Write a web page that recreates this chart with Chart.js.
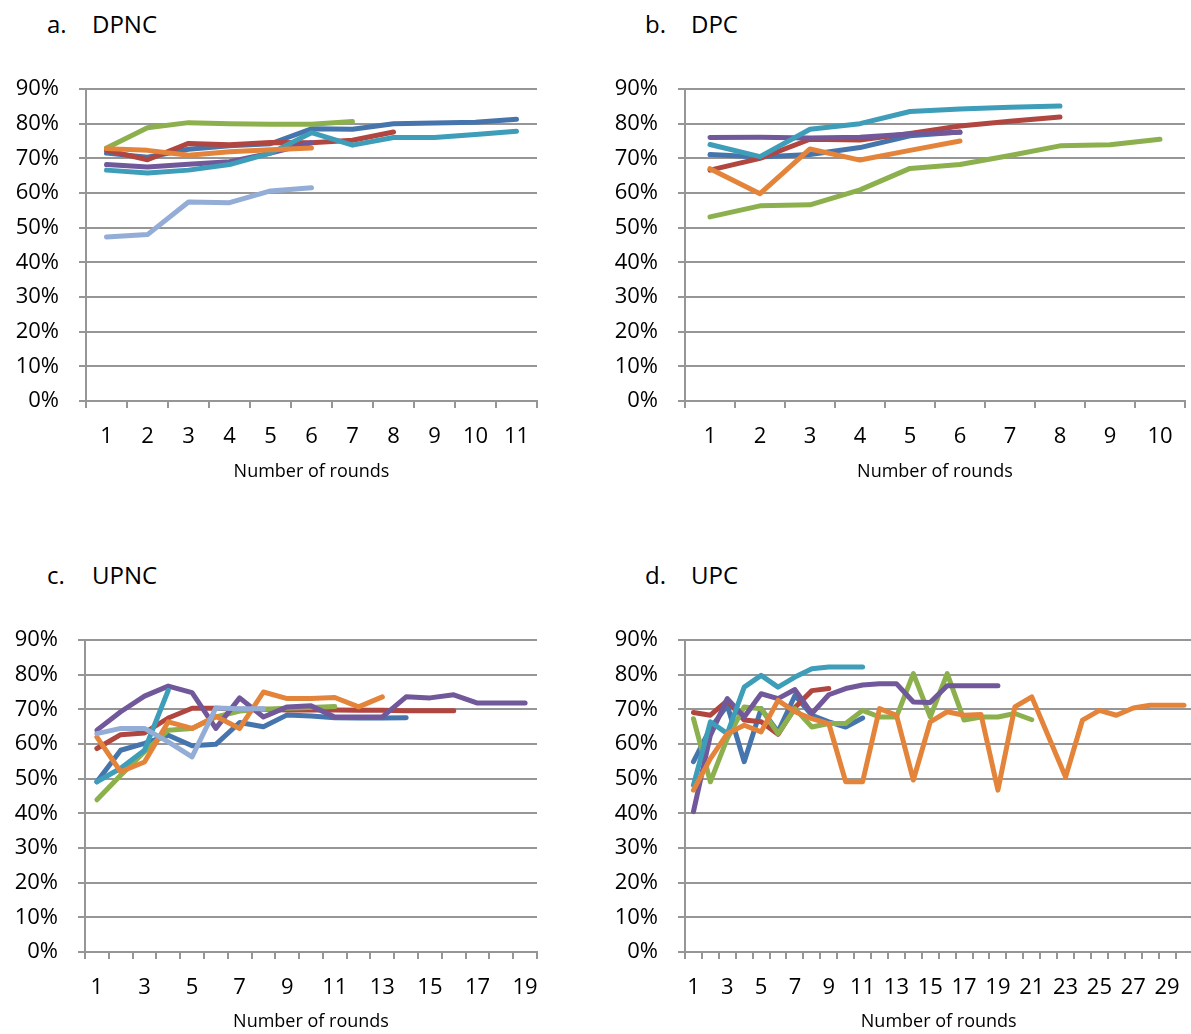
<!DOCTYPE html>
<html>
<head>
<meta charset="utf-8">
<script src="https://cdn.jsdelivr.net/npm/chart.js@4.4.0/dist/chart.umd.min.js"></script>
<style>
  body { margin: 0; background: #fff; }
  .wrap { position: relative; width: 1191px; height: 1034px; overflow: hidden; font-family: 'Open Sans', sans-serif; }
  canvas { position: absolute; }
  .ttl { position: absolute; font-size: 24px; line-height: 24px; color: #000; }
</style>
</head>
<body>
<div class="wrap">
  <div class="ttl" style="left:47px;top:12px">a.</div><div class="ttl" style="left:92px;top:12px">DPNC</div>
  <div class="ttl" style="left:645px;top:12px">b.</div><div class="ttl" style="left:691px;top:12px">DPC</div>
  <div class="ttl" style="left:47px;top:563px">c.</div><div class="ttl" style="left:92px;top:563px">UPNC</div>
  <div class="ttl" style="left:645px;top:563px">d.</div><div class="ttl" style="left:691px;top:563px">UPC</div>
  <canvas id="chartA" width="560" height="420" style="left:0;top:70px"></canvas>
  <canvas id="chartB" width="591" height="420" style="left:600px;top:70px"></canvas>
  <canvas id="chartC" width="560" height="420" style="left:0;top:620px"></canvas>
  <canvas id="chartD" width="600" height="420" style="left:600px;top:620px"></canvas>
</div>
<script>
// categories (rounds)
const roundsA = ['1', '2', '3', '4', '5', '6', '7', '8', '9', '10', '11'];
const roundsB = ['1', '2', '3', '4', '5', '6', '7', '8', '9', '10'];
const roundsC = ['1', '2', '3', '4', '5', '6', '7', '8', '9', '10', '11', '12', '13', '14', '15', '16', '17', '18', '19'];
const roundsD = ['1', '2', '3', '4', '5', '6', '7', '8', '9', '10', '11', '12', '13', '14', '15',
  '16', '17', '18', '19', '20', '21', '22', '23', '24', '25', '26', '27', '28', '29', '30'];

// a. DPNC (%)
const dpncBlue = [71.5, 70.3, 72.6, 73.6, 74.2, 78.5, 78.4, 80.0, 80.2, 80.4, 81.3];
const dpncRed = [72.3, 69.6, 74.3, 73.9, 74.6, 74.5, 75.2, 77.6];
const dpncGreen = [73.0, 78.8, 80.3, 80.0, 79.8, 79.8, 80.6];
const dpncPurple = [68.2, 67.5, 68.3, 69.0, 71.5, 74.5];
const dpncAqua = [66.6, 65.8, 66.6, 68.2, 71.5, 77.4, 73.8, 76.0, 76.0, 76.9, 77.8];
const dpncOrange = [72.8, 72.3, 70.9, 71.9, 72.5, 73.0];
const dpncLight = [47.3, 48.0, 57.4, 57.2, 60.6, 61.5];

// b. DPC (%)
const dpcBlue = [71.1, 70.4, 71.1, 73.1, 76.5, 77.6];
const dpcRed = [66.6, 70.0, 75.5, 75.3, 77.2, 79.3, 80.7, 81.9];
const dpcGreen = [53.1, 56.3, 56.6, 60.9, 67.1, 68.2, 70.8, 73.6, 73.9, 75.5];
const dpcPurple = [76.0, 76.1, 75.9, 76.1, 77.0, 77.5];
const dpcAqua = [74.0, 70.5, 78.4, 80.0, 83.5, 84.2, 84.7, 85.1];
const dpcOrange = [67.0, 59.8, 72.7, 69.5, 72.3, 75.0];

// c. UPNC (%)
const upncBlue = [49.1, 58.2, 60.2, 62.5, 59.5, 59.9, 66.2, 65.0, 68.4, 68.1, 67.6, 67.5, 67.5, 67.6];
const upncRed = [58.7, 62.7, 63.2, 67.5, 70.3, 70.3, 70.0, 70.0, 69.8, 69.8, 69.8, 69.7, 69.7, 69.6, 69.6, 69.6];
const upncGreen = [43.9, 51.0, 57.8, 64.0, 64.5, 67.8, 69.5, 70.0, 70.3, 70.5, 70.8];
const upncPurple = [64.0, 69.3, 73.8, 76.7, 74.8, 64.5, 73.3, 67.8, 70.7, 71.0, 67.8, 67.8, 67.8, 73.6, 73.3, 74.2, 71.8, 71.8, 71.8];
const upncAqua = [49.1, 53.0, 58.2, 75.5];
const upncOrange = [62.0, 52.0, 54.8, 66.4, 64.5, 68.0, 64.5, 75.0, 73.1, 73.1, 73.4, 70.7, 73.6];
const upncLight = [63.0, 64.5, 64.5, 60.6, 56.3, 70.4, 70.2, 70.2];

// d. UPC (%)
const upcBlue = [54.9, 64.5, 71.2, 54.9, 70.2, 63.5, 74.0, 68.3, 66.4, 64.9, 67.5];
const upcRed = [69.1, 68.3, 72.5, 66.9, 66.4, 62.8, 70.5, 75.4, 76.0];
const upcGreen = [67.3, 49.1, 61.6, 70.7, 70.2, 63.0, 70.2, 64.9, 65.9, 65.9, 69.7, 67.8, 67.8, 80.3, 67.8, 80.3, 66.9, 67.8, 67.8, 68.8, 67.0];
const upcPurple = [40.5, 62.5, 73.1, 67.8, 74.5, 73.1, 75.7, 68.8, 74.2, 76.0, 77.0, 77.4, 77.4, 72.1, 72.0, 76.8, 76.8, 76.8, 76.8];
const upcAqua = [48.1, 66.4, 63.0, 76.4, 79.8, 76.4, 79.3, 81.7, 82.2, 82.2, 82.2];
const upcOrange = [46.7, 55.8, 63.0, 65.4, 63.5, 72.6, 69.3, 67.3, 65.9, 49.1, 49.1, 70.2, 68.3, 49.6, 66.4,
  69.3, 68.3, 68.5, 46.7, 70.7, 73.6, 62.0, 50.5, 66.9, 69.7, 68.3, 70.4, 71.2, 71.2, 71.2];

const yTicks = [0, 10, 20, 30, 40, 50, 60, 70, 80, 90];

const blue = '#4675ad';
const red = '#b0463f';
const green = '#8db04e';
const purple = '#71589a';
const aqua = '#3e9db8';
const orange = '#e4843a';
const lightBlue = '#93add6';
const gridColor = '#969696';
const fontFamily = "'Open Sans', sans-serif";

const makeChart = (id, categories, series, yW, pad, xH, skip) => {
    const datasets = series.map((s, i) => ({
        data: s[0],
        borderColor: s[1],
        borderWidth: 5,
        pointRadius: 0,
        tension: 0,
        fill: false,
        borderCapStyle: 'round',
        borderJoinStyle: 'round',
        order: series.length - i,
    }));

    const config = {
        type: 'line',
        data: { labels: categories, datasets },
        options: {
            responsive: false,
            animation: false,
            layout: { padding: pad },
            plugins: { legend: { display: false }, tooltip: { enabled: false } },
            scales: {
                x: {
                    type: 'category',
                    offset: true,
                    grid: { display: true, drawOnChartArea: false, drawTicks: true, tickLength: 7, offset: true, color: gridColor, lineWidth: 2 },
                    border: { display: true, color: gridColor, width: 2 },
                    ticks: {
                        autoSkip: false,
                        maxRotation: 0,
                        padding: 16,
                        color: '#000',
                        font: { family: fontFamily, size: 22 },
                        callback: function (v, i) {
                            return skip && i % 2 ? '' : this.getLabelForValue(v);
                        },
                    },
                    title: { display: true, text: 'Number of rounds', color: '#000', font: { family: fontFamily, size: 18 }, padding: { top: 0, bottom: 7 } },
                    afterFit: (s) => { s.height = xH; },
                },
                y: {
                    min: yTicks[0],
                    max: yTicks[yTicks.length - 1],
                    afterBuildTicks: (s) => { s.ticks = yTicks.map((v) => ({ value: v })); },
                    grid: { color: gridColor, lineWidth: 2, tickLength: 7, drawTicks: true },
                    border: { display: true, color: gridColor, width: 2 },
                    ticks: { padding: 20, color: '#000', font: { family: fontFamily, size: 22 }, callback: (v) => `${v}%` },
                    afterFit: (s) => {
                        s.width = yW;
                        s.paddingTop = 0;
                        s.paddingBottom = 0;
                    },
                },
            },
        },
    };
    return new Chart(document.getElementById(id).getContext('2d'), config);
};

makeChart('chartA', roundsA, [
    [dpncBlue, blue], [dpncRed, red], [dpncGreen, green], [dpncPurple, purple],
    [dpncAqua, aqua], [dpncOrange, orange], [dpncLight, lightBlue],
], 86, { top: 19, right: 23, left: 0, bottom: 0 }, 89, false);

makeChart('chartB', roundsB, [
    [dpcBlue, blue], [dpcRed, red], [dpcGreen, green], [dpcPurple, purple],
    [dpcAqua, aqua], [dpcOrange, orange],
], 85, { top: 19, right: 6, left: 0, bottom: 0 }, 89, false);

makeChart('chartC', roundsC, [
    [upncBlue, blue], [upncRed, red], [upncGreen, green], [upncPurple, purple],
    [upncAqua, aqua], [upncOrange, orange], [upncLight, lightBlue],
], 85, { top: 20, right: 23, left: 0, bottom: 0 }, 88, true);

makeChart('chartD', roundsD, [
    [upcBlue, blue], [upcRed, red], [upcGreen, green], [upcPurple, purple],
    [upcAqua, aqua], [upcOrange, orange],
], 85, { top: 20, right: 0, left: 0, bottom: 0 }, 88, true);
</script>
</body>
</html>
